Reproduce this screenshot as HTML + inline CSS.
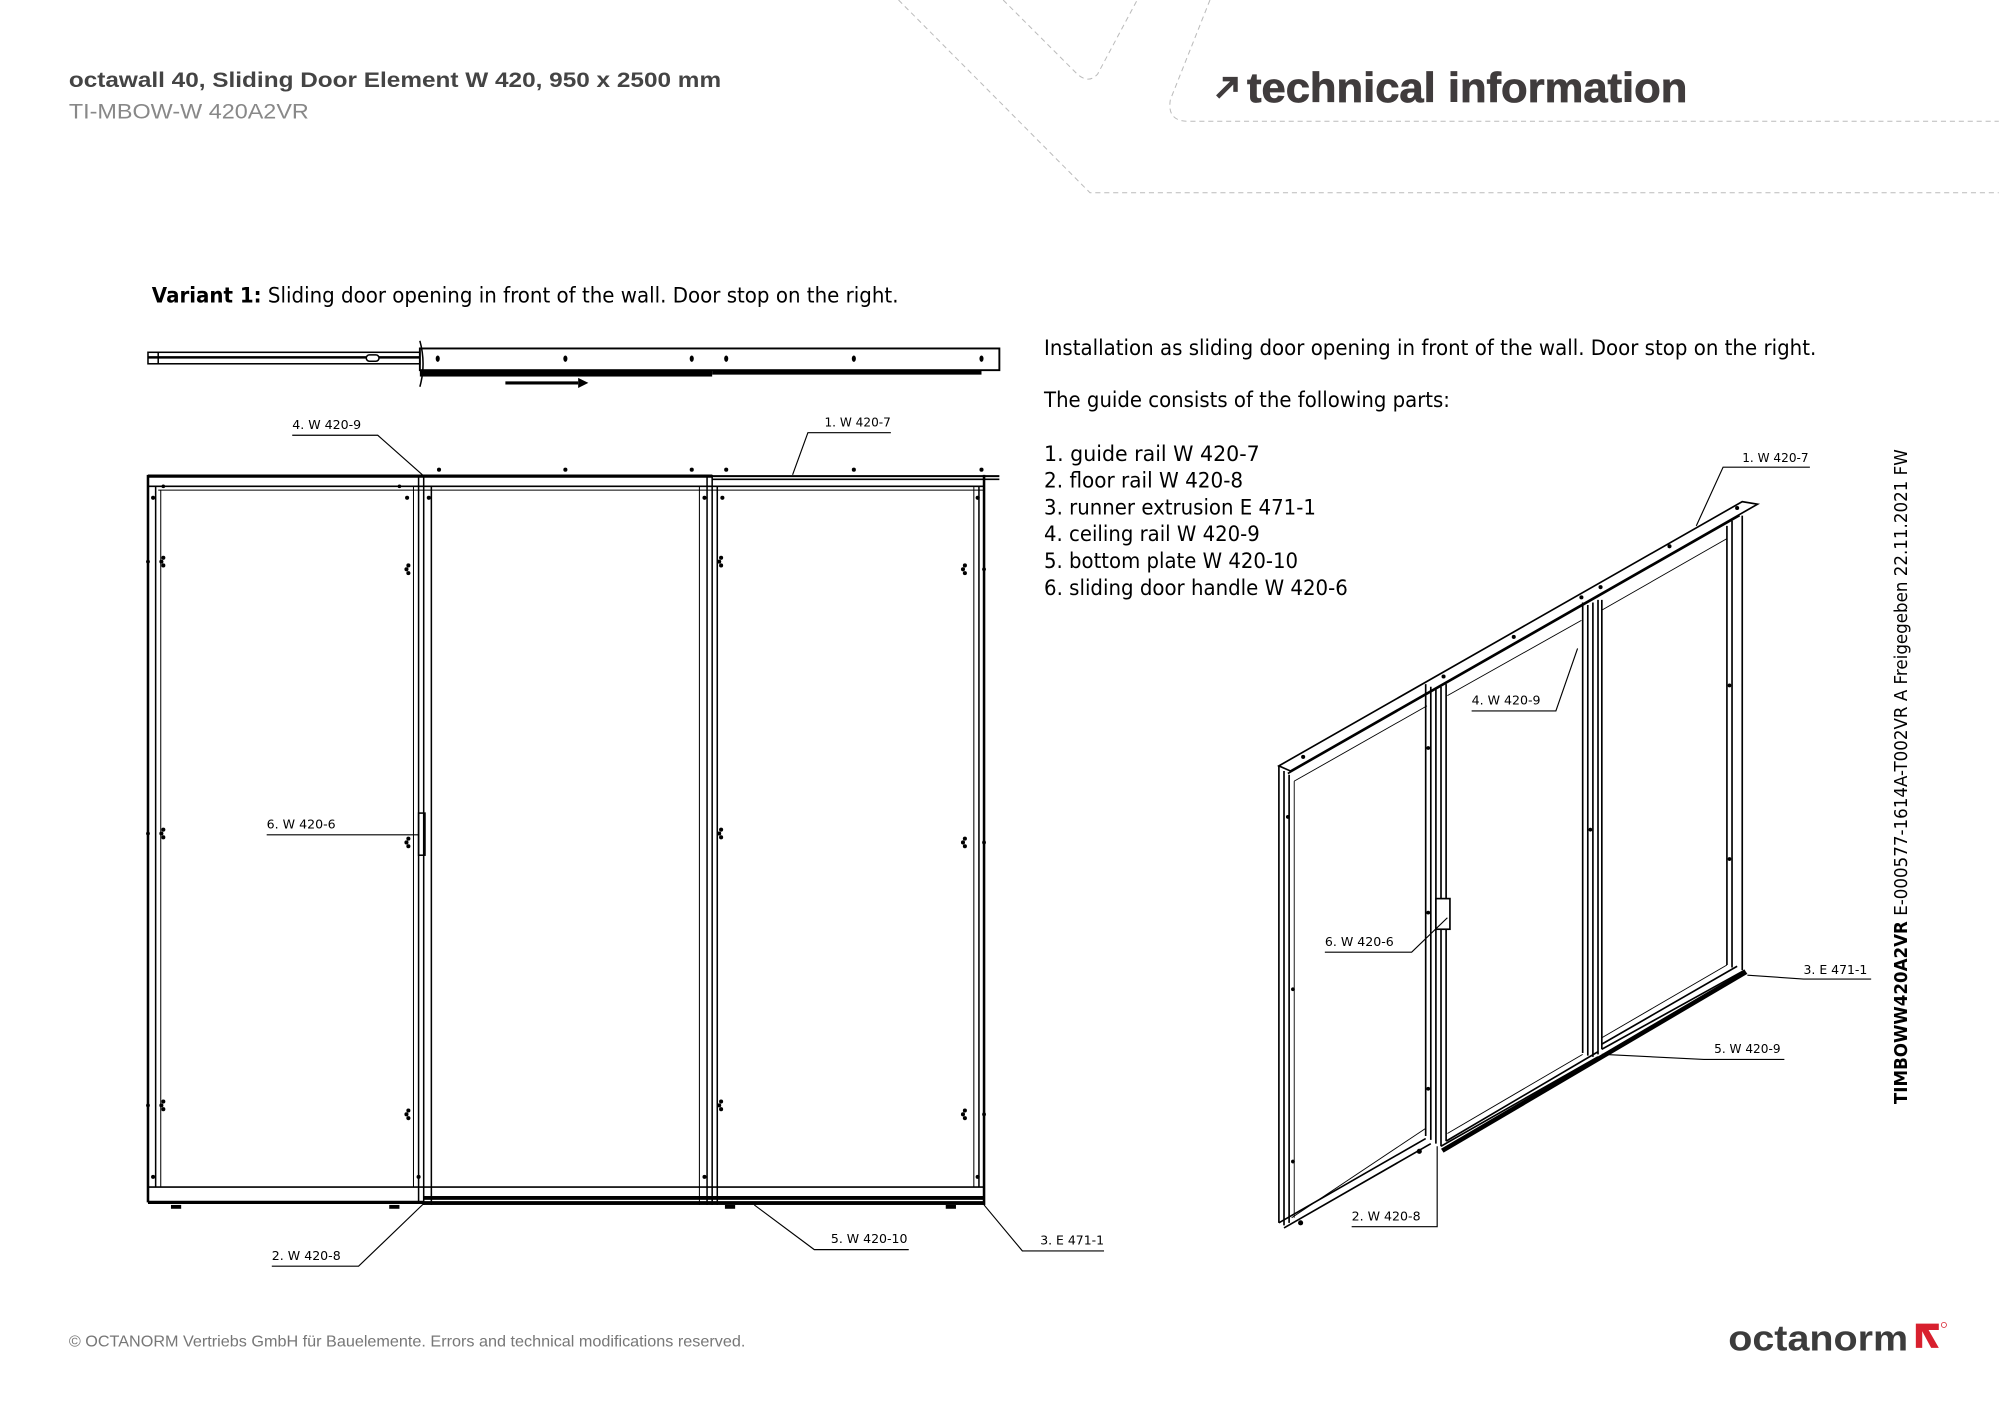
<!DOCTYPE html>
<html><head><meta charset="utf-8"><style>html,body{margin:0;padding:0;background:#fff}svg{display:block}</style></head>
<body>
<svg width="2000" height="1413" viewBox="0 0 1565 1107" xmlns="http://www.w3.org/2000/svg" font-family="'DejaVu Sans','Liberation Sans',sans-serif">
<defs><g id="h"><circle cx="0" cy="-3" r="1.6"/><circle cx="0" cy="3" r="1.6"/><circle cx="-1.5" cy="0" r="1.6"/></g></defs>
<!-- header decorations -->
<g fill="none" stroke="#bbb" stroke-width="0.8" stroke-dasharray="4 3">
<path d="M703 0 L853 151 L1565 151"/>
<path d="M785 0 L843 58 Q852 66 859 58 L890 0"/>
<path d="M947 0 L916 78 Q913 95 930 95 L1565 95"/>
</g>
<text x="53" y="68" font-family="'Liberation Sans',sans-serif" font-weight="bold" font-size="17" fill="#444" textLength="511" lengthAdjust="spacingAndGlyphs">octawall 40, Sliding Door Element W 420, 950 x 2500 mm</text>
<text x="53" y="93" font-family="'Liberation Sans',sans-serif" font-size="17" fill="#888" textLength="188" lengthAdjust="spacingAndGlyphs">TI-MBOW-W 420A2VR</text>
<path d="M953 76 L966 63 M957 62 L967 62 L967 72" stroke="#403c3d" stroke-width="3.5" fill="none"/>
<text x="976" y="80" font-family="'Liberation Sans',sans-serif" font-weight="bold" font-size="33" fill="#403c3d" stroke="#403c3d" stroke-width="0.6" textLength="345" lengthAdjust="spacingAndGlyphs">technical information</text>

<text x="118" y="237" font-size="17" fill="#000" textLength="585" lengthAdjust="spacingAndGlyphs"><tspan font-weight="bold">Variant 1:</tspan> Sliding door opening in front of the wall. Door stop on the right.</text>

<g font-size="17" fill="#000">
<text x="817" y="278" textLength="605" lengthAdjust="spacingAndGlyphs">Installation as sliding door opening in front of the wall. Door stop on the right.</text>
<text x="817" y="319" textLength="318" lengthAdjust="spacingAndGlyphs">The guide consists of the following parts:</text>
<text x="817" y="361" textLength="169" lengthAdjust="spacingAndGlyphs">1. guide rail  W 420-7</text>
<text x="817" y="382" textLength="156" lengthAdjust="spacingAndGlyphs">2. floor rail W 420-8</text>
<text x="817" y="403" textLength="213" lengthAdjust="spacingAndGlyphs">3. runner extrusion E 471-1</text>
<text x="817" y="424" textLength="169" lengthAdjust="spacingAndGlyphs">4. ceiling rail W 420-9</text>
<text x="817" y="445" textLength="199" lengthAdjust="spacingAndGlyphs">5. bottom plate W 420-10</text>
<text x="817" y="466" textLength="238" lengthAdjust="spacingAndGlyphs">6. sliding door handle W 420-6</text>
</g>

<text transform="translate(1493,865) rotate(-90)" font-size="14" fill="#000" textLength="513" lengthAdjust="spacingAndGlyphs"><tspan font-weight="bold">TIMBOWW420A2VR</tspan> E-000577-1614A-T002VR A Freigegeben 22.11.2021 FW</text>

<!-- plan view -->
<g stroke="#000" fill="none" stroke-width="1.2">
<rect x="115" y="276" width="213" height="9"/>
<line x1="115" y1="280" x2="328" y2="280" stroke-width="2"/>
<line x1="123" y1="276" x2="123" y2="285"/>
<rect x="286" y="278" width="10" height="5" rx="2.5" fill="#fff"/>
<rect x="328" y="273" width="454" height="17" stroke-width="1.5"/>
<path d="M328 267 Q333 285 328 303"/>
</g>
<rect x="328" y="290" width="229" height="5" fill="#000"/>
<rect x="557" y="290" width="211" height="3.5" fill="#000"/>
<g fill="#000">
<ellipse cx="342" cy="281" rx="1.6" ry="2.5"/><ellipse cx="442" cy="281" rx="1.6" ry="2.5"/><ellipse cx="541" cy="281" rx="1.6" ry="2.5"/><ellipse cx="568" cy="281" rx="1.6" ry="2.5"/><ellipse cx="668" cy="281" rx="1.6" ry="2.5"/><ellipse cx="768" cy="281" rx="1.6" ry="2.5"/>
</g>
<line x1="395" y1="300" x2="452" y2="300" stroke="#000" stroke-width="2.5"/>
<path d="M452 296 L460 300 L452 304 Z" fill="#000"/>

<!-- front view -->
<g stroke="#000" fill="none" stroke-width="1.2">
<line x1="115" y1="373" x2="557" y2="373" stroke-width="2.5"/>
<line x1="557" y1="373" x2="782" y2="373" stroke-width="1.5"/>
<line x1="557" y1="375.5" x2="782" y2="375.5"/>
<line x1="115" y1="381" x2="770" y2="381"/>
<line x1="123" y1="384" x2="770" y2="384" stroke-width="0.8"/>
<line x1="115" y1="372" x2="115" y2="942" stroke-width="2"/>
<line x1="121" y1="381" x2="121" y2="930"/>
<line x1="125" y1="384" x2="125" y2="930" stroke-width="0.8"/>
<line x1="323" y1="381" x2="323" y2="930" stroke-width="0.8"/>
<line x1="327" y1="372" x2="327" y2="942"/>
<line x1="331" y1="372" x2="331" y2="944"/>
<line x1="337" y1="381" x2="337" y2="944"/>
<line x1="547" y1="381" x2="547" y2="944" stroke-width="0.8"/>
<line x1="553" y1="372" x2="553" y2="944"/>
<line x1="557" y1="372" x2="557" y2="944"/>
<line x1="561" y1="381" x2="561" y2="944"/>
<line x1="762" y1="381" x2="762" y2="930" stroke-width="0.8"/>
<line x1="766" y1="381" x2="766" y2="930"/>
<line x1="770" y1="372" x2="770" y2="944" stroke-width="2"/>
<line x1="115" y1="930" x2="770" y2="930"/>
<line x1="115" y1="942" x2="331" y2="942" stroke-width="2.5"/>
<rect x="327" y="637" width="5" height="33"/>
</g>
<rect x="331" y="937" width="439" height="3" fill="#000"/>
<rect x="331" y="941" width="439" height="3" fill="#000"/>
<g fill="#000">
<circle cx="119" cy="390" r="1.6"/><circle cx="318" cy="390" r="1.6"/><circle cx="335" cy="390" r="1.6"/><circle cx="551" cy="390" r="1.6"/><circle cx="565" cy="390" r="1.6"/><circle cx="765" cy="390" r="1.6"/>
<circle cx="119" cy="922" r="1.6"/><circle cx="327" cy="922" r="1.6"/><circle cx="551" cy="922" r="1.6"/><circle cx="765" cy="922" r="1.6"/>
<circle cx="343" cy="368" r="1.6"/><circle cx="442" cy="368" r="1.6"/><circle cx="541" cy="368" r="1.6"/><circle cx="568" cy="368" r="1.6"/><circle cx="668" cy="368" r="1.6"/><circle cx="768" cy="368" r="1.6"/>
<circle cx="127" cy="381" r="1.4"/><circle cx="312" cy="381" r="1.4"/>
<use href="#h" x="127" y="440"/><use href="#h" x="127" y="653"/><use href="#h" x="127" y="866"/>
<use href="#h" x="319" y="446"/><use href="#h" x="319" y="660"/><use href="#h" x="319" y="873"/>
<use href="#h" x="564" y="440"/><use href="#h" x="564" y="653"/><use href="#h" x="564" y="866"/>
<use href="#h" x="755" y="446"/><use href="#h" x="755" y="660"/><use href="#h" x="755" y="873"/>
<circle cx="115" cy="440" r="1.5"/><circle cx="115" cy="653" r="1.5"/><circle cx="115" cy="866" r="1.5"/>
<circle cx="770" cy="446" r="1.5"/><circle cx="770" cy="660" r="1.5"/><circle cx="770" cy="873" r="1.5"/>
<rect x="133" y="944" width="8" height="3"/><rect x="304" y="944" width="8" height="3"/><rect x="567" y="944" width="8" height="3"/><rect x="740" y="944" width="8" height="3"/>
</g>

<!-- front view labels -->
<g font-size="10" fill="#000">
<text x="228" y="336" textLength="54" lengthAdjust="spacingAndGlyphs">4. W 420-9</text>
<text x="645" y="334" textLength="52" lengthAdjust="spacingAndGlyphs">1. W 420-7</text>
<text x="208" y="649" textLength="54" lengthAdjust="spacingAndGlyphs">6. W 420-6</text>
<text x="212" y="987" textLength="54" lengthAdjust="spacingAndGlyphs">2. W 420-8</text>
<text x="650" y="974" textLength="60" lengthAdjust="spacingAndGlyphs">5. W 420-10</text>
<text x="814" y="975" textLength="50" lengthAdjust="spacingAndGlyphs">3. E 471-1</text>
</g>
<g stroke="#000" fill="none" stroke-width="0.9">
<path d="M228 341 L295 341 L330 372"/>
<path d="M697 339 L632 339 L620 372"/>
<path d="M208 654 L327 654"/>
<path d="M212 992 L280 992 L332 942"/>
<path d="M711 979 L637 979 L590 944"/>
<path d="M864 980 L800 980 L770 944"/>
</g>

<!-- iso view -->
<g stroke="#000" fill="none" stroke-width="1.3">
<path d="M1001 600 L1364 393 L1376 395 L1010 604 Z"/>
<line x1="1008" y1="606" x2="1362" y2="404"/>
<line x1="1001" y1="600" x2="1001" y2="958"/>
<line x1="1005" y1="604" x2="1005" y2="960"/>
<line x1="1009" y1="607" x2="1009" y2="958"/>
<line x1="1013" y1="612" x2="1013" y2="954" stroke-width="0.7"/>
<line x1="1013" y1="612" x2="1117" y2="553" stroke-width="0.7"/>
<line x1="1116" y1="536" x2="1116" y2="890"/>
<line x1="1120" y1="538" x2="1120" y2="893"/>
<line x1="1124" y1="540" x2="1124" y2="896"/>
<line x1="1128" y1="538" x2="1128" y2="898"/>
<line x1="1132" y1="536" x2="1132" y2="894"/>
<line x1="1133" y1="545" x2="1238" y2="486" stroke-width="0.7"/>
<line x1="1239" y1="472" x2="1239" y2="825"/>
<line x1="1243" y1="474" x2="1243" y2="827"/>
<line x1="1247" y1="472" x2="1247" y2="828"/>
<line x1="1251" y1="470" x2="1251" y2="826"/>
<line x1="1254" y1="470" x2="1254" y2="822"/>
<line x1="1254" y1="478" x2="1352" y2="422" stroke-width="0.7"/>
<line x1="1352" y1="412" x2="1352" y2="756"/>
<line x1="1356" y1="408" x2="1356" y2="758"/>
<line x1="1364" y1="404" x2="1364" y2="760"/>
<line x1="1001" y1="958" x2="1116" y2="892"/>
<line x1="1005" y1="962" x2="1120" y2="896"/>
<line x1="1011" y1="954" x2="1116" y2="884" stroke-width="0.7"/>
<line x1="1128" y1="898" x2="1251" y2="828"/>
<line x1="1132" y1="894" x2="1251" y2="824"/>
<line x1="1133" y1="888" x2="1239" y2="826" stroke-width="0.7"/>
<line x1="1254" y1="822" x2="1366" y2="760"/>
<line x1="1254" y1="818" x2="1360" y2="757"/>
<line x1="1254" y1="813" x2="1352" y2="756" stroke-width="0.7"/>
<rect x="1124" y="704" width="11" height="24" fill="#fff"/>
</g>
<path d="M1128 900 L1366 760 L1368 763 L1130 903 Z" fill="#000"/>
<g fill="#000">
<circle cx="1020" cy="593" r="1.6"/><circle cx="1130" cy="530" r="1.6"/><circle cx="1185" cy="499" r="1.6"/><circle cx="1238" cy="468" r="1.6"/><circle cx="1253" cy="460" r="1.6"/><circle cx="1307" cy="428" r="1.6"/><circle cx="1360" cy="398" r="1.6"/>
<circle cx="1008" cy="640" r="1.5"/><circle cx="1012" cy="775" r="1.5"/><circle cx="1012" cy="910" r="1.5"/>
<circle cx="1118" cy="586" r="1.5"/><circle cx="1118" cy="715" r="1.5"/><circle cx="1118" cy="853" r="1.5"/>
<circle cx="1245" cy="650" r="1.5"/><circle cx="1354" cy="537" r="1.5"/><circle cx="1354" cy="673" r="1.5"/>
<circle cx="1018" cy="958" r="2"/><circle cx="1111" cy="902" r="2"/>
</g>
<g font-size="10" fill="#000">
<text x="1364" y="362" textLength="52" lengthAdjust="spacingAndGlyphs">1. W 420-7</text>
<text x="1152" y="552" textLength="54" lengthAdjust="spacingAndGlyphs">4. W 420-9</text>
<text x="1037" y="741" textLength="54" lengthAdjust="spacingAndGlyphs">6. W 420-6</text>
<text x="1058" y="956" textLength="54" lengthAdjust="spacingAndGlyphs">2. W 420-8</text>
<text x="1342" y="825" textLength="52" lengthAdjust="spacingAndGlyphs">5. W 420-9</text>
<text x="1412" y="763" textLength="50" lengthAdjust="spacingAndGlyphs">3. E 471-1</text>
</g>
<g stroke="#000" fill="none" stroke-width="0.9">
<path d="M1417 366 L1349 366 L1328 412"/>
<path d="M1152 557 L1218 557 L1235 508"/>
<path d="M1037 746 L1105 746 L1133 719"/>
<path d="M1058 961 L1125 961 L1125 898"/>
<path d="M1397 830 L1334 830 L1254 826"/>
<path d="M1465 767 L1412 767 L1368 764"/>
</g>

<!-- footer -->
<text x="53" y="1055" font-family="'Liberation Sans',sans-serif" font-size="12" fill="#777" textLength="530" lengthAdjust="spacingAndGlyphs">© OCTANORM Vertriebs GmbH für Bauelemente. Errors and technical modifications reserved.</text>
<text x="1353" y="1058" font-family="'Liberation Sans',sans-serif" font-weight="bold" font-size="28" fill="#3c3c3c" textLength="141" lengthAdjust="spacingAndGlyphs">octanorm</text>
<path d="M1500 1037 L1518 1037 L1518 1042 L1510 1042 L1518 1056 L1512 1056 L1505 1043 L1505 1056 L1500 1056 Z" fill="#d8202e"/>
<circle cx="1522" cy="1038" r="2" fill="none" stroke="#d8202e" stroke-width="0.6"/>
</svg>
</body></html>
